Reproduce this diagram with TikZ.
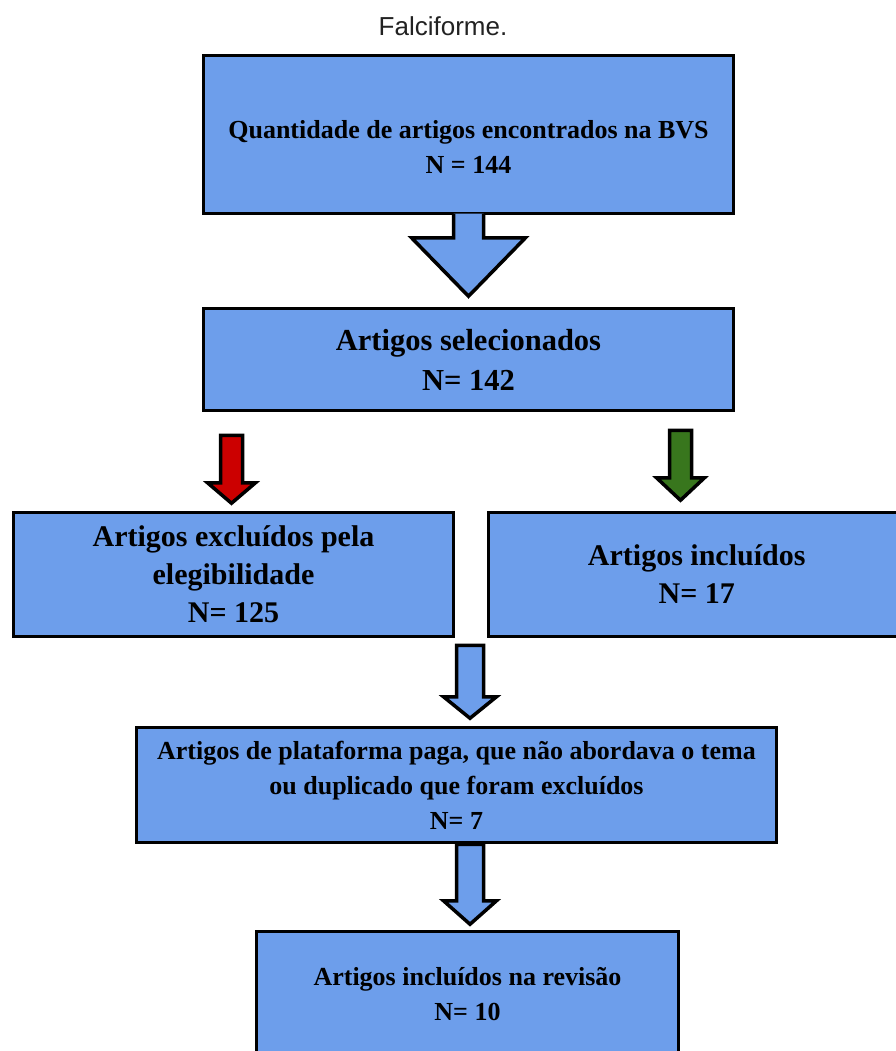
\documentclass[tikz,border=0pt]{standalone}
\usepackage{fontspec}
\setmainfont{Liberation Serif}
\newfontfamily\titlefont{Liberation Sans}
\usetikzlibrary{positioning,calc}

\definecolor{boxblue}{HTML}{6D9EEB}
\definecolor{exred}{HTML}{CC0000}
\definecolor{ingreen}{HTML}{38761D}
\definecolor{titlegray}{HTML}{222222}

% fat arrow: [end] {fill} {tail} {tip} {stem half} {head half} {head length}
\newcommand{\blockarrow}[7][--cycle]{%
  \filldraw[fat arrow, fill=#2] ($(#3)+(-#5,0)$) -- ($(#4)+(-#5,-#7)$) -- ($(#4)+(-#6,-#7)$)
    -- (#4) -- ($(#4)+(#6,-#7)$) -- ($(#4)+(#5,-#7)$) -- ($(#3)+(#5,0)$) #1;}

\begin{document}
\begin{tikzpicture}[x=1bp,y=-1bp]
   \tikzstyle{box}=[draw=black, line width=3.5bp, fill=boxblue, rectangle, align=center, inner sep=0pt, font=\bfseries\fontsize{30bp}{38bp}\selectfont]
   \tikzstyle{small box}=[box, font=\bfseries\fontsize{26bp}{35bp}\selectfont]
   \tikzstyle{fat arrow}=[draw=black, line width=3.5bp, line join=miter]

\useasboundingbox (0,0) rectangle (896,1051);
\clip (0,0) rectangle (896,1051);

\node[font=\titlefont\fontsize{26bp}{30bp}\selectfont, text=titlegray] (title) at (443,26) {Falciforme.};

% boxes
\node[small box, minimum width=530bp, minimum height=158bp] (bvs) at (468.5,134.5)
    {\rule{0pt}{42bp}Quantidade de artigos encontrados na BVS\\N = 144};
\node[box, minimum width=530bp, minimum height=102bp, font=\bfseries\fontsize{30.5bp}{40bp}\selectfont] (sel) at (468.5,359.5)
    {Artigos selecionados\\N= 142};
\node[box, minimum width=440bp, minimum height=124bp] (excl) at (233.5,574.5)
    {Artigos excluídos pela\\elegibilidade\\N= 125};
\node[box, minimum width=416.5bp, minimum height=124bp] (incl) at (696.75,574.5)
    {Artigos incluídos\\N= 17};
\node[small box, minimum width=640bp, minimum height=115bp] (plat) at (456.5,785)
    {Artigos de plataforma paga, que não abordava o tema\\ou duplicado que foram excluídos\\N= 7};
\node[small box, minimum width=422bp, minimum height=125bp] (rev) at (467.5,994)
    {Artigos incluídos na revisão\\N= 10};

% arrow ends
\coordinate (t1) at ($(bvs.south)+(0,-1.75)$);
\coordinate (h1) at ($(sel.north)+(0,-10.5)$);
\coordinate (t2) at ($(excl.north |- sel.south)+(-2,23)$);
\coordinate (h2) at ($(excl.north)+(-2,-7.5)$);
\coordinate (t3) at ($(incl.north |- sel.south)+(-16.25,18)$);
\coordinate (h3) at ($(incl.north)+(-16.25,-10.5)$);
\coordinate (gap) at ($(excl.south east)!0.5!(incl.south west)$);
\coordinate (t4) at ($(gap)+(-1,7)$);
\coordinate (h4) at ($(gap |- plat.north)+(-1,-7.5)$);
\coordinate (t5) at ($(gap |- plat.south)+(-1,0)$);
\coordinate (h5) at ($(gap |- rev.north)+(-1,-5.5)$);

% arrows
\blockarrow[]{boxblue}{t1}{h1}{15}{57}{58.5}
\blockarrow{exred}{t2}{h2}{11}{24}{20.5}
\blockarrow{ingreen}{t3}{h3}{11}{24}{22.5}
\blockarrow{boxblue}{t4}{h4}{13.5}{26.5}{21.5}
\blockarrow{boxblue}{t5}{h5}{13.5}{26.5}{23.5}

\end{tikzpicture}
\end{document}
